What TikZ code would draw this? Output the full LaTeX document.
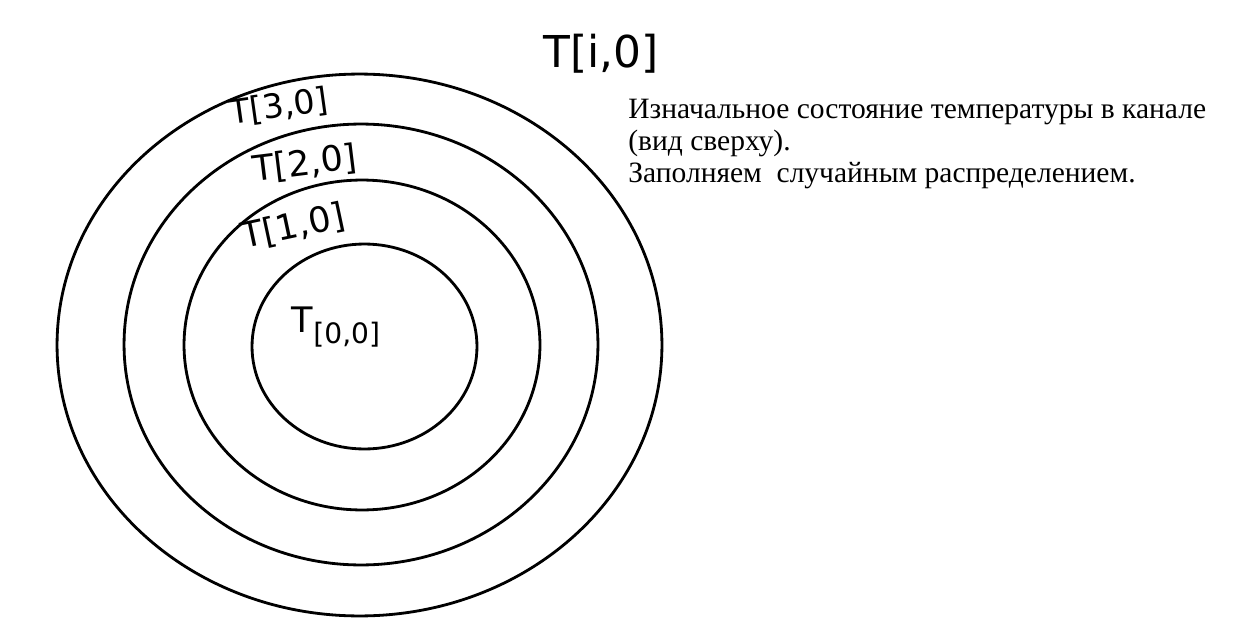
\documentclass[tikz,border=0pt]{standalone}
\usepackage{fontspec}
\setmainfont{Liberation Serif}
\setsansfont{DejaVu Sans}
\usetikzlibrary{shapes.geometric}

\tikzset{
  ring/.style={draw,ellipse,line width=1.6pt,inner sep=0pt},
  hand/.style={font=\sffamily\fontsize{20}{20}\selectfont,inner sep=0pt},
  note/.style={font=\fontsize{16.8}{18}\selectfont,anchor=base west,inner sep=0pt}
}

\begin{document}
\begin{tikzpicture}[x=0.02cm,y=-0.02cm]
  \useasboundingbox (0,0) rectangle (1259,636);
  % rings, the outer one first
  \foreach \cx/\cy/\w/\h [count=\n] in {359.5/345/12.1/10.84, 361/344.5/9.48/8.82,
      362/345/7.12/6.6, 364.5/346.5/4.5/4.1}{
      \node[ring,minimum width=\w cm,minimum height=\h cm] (R-\n) at (\cx,\cy) {};
    }
  % labels of the rings
  \node[hand,font=\sffamily\fontsize{25}{25}\selectfont] (T-i) at (601,54) {T[i,0]};
  \node[hand,rotate=8,font=\sffamily\fontsize{19}{19}\selectfont] (T-3) at (279,107) {T[3,0]};
  \node[hand,rotate=7] (T-2) at (305,164) {T[2,0]};
  \node[hand,rotate=12] (T-1) at (293,227) {T[1,0]};
  \node[hand] (T-0) at (336,327) {T\raisebox{-0.6ex}{\fontsize{16}{16}\selectfont[0,0]}};
  % note on the right
  \foreach \line [count=\n] in {{Изначальное состояние температуры в канале},
      {(вид сверху).},{Заполняем~ случайным распределением.}}{
      \node[note] (L-\n) at (628,86+32*\n) {\line};
    }
\end{tikzpicture}
\end{document}
